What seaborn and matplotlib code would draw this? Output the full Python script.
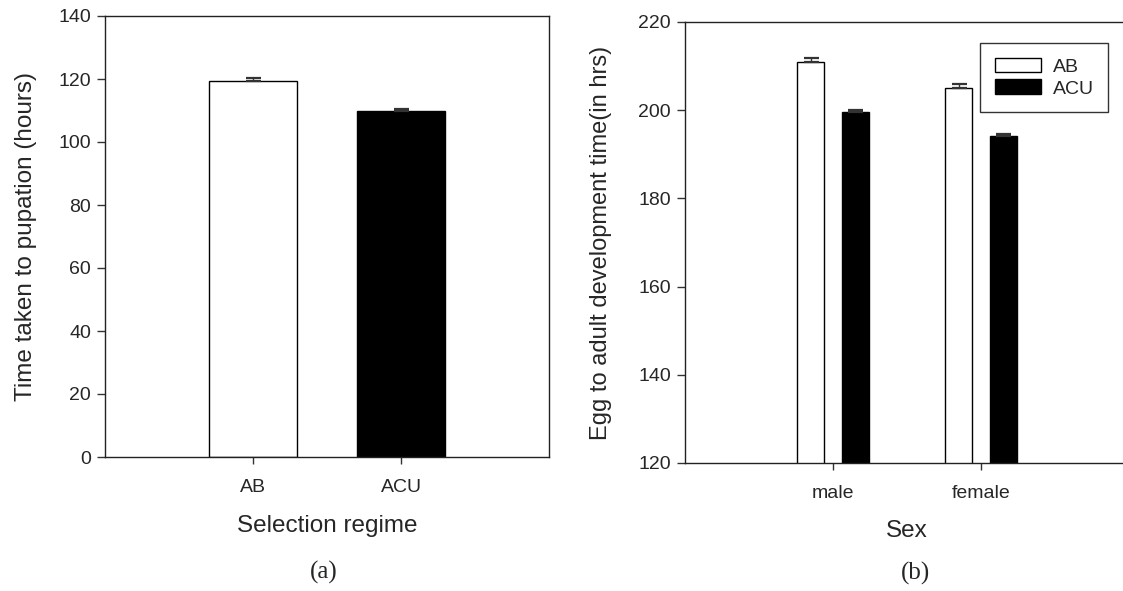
import matplotlib
matplotlib.use("Agg")
import matplotlib.pyplot as plt
import seaborn as sns
import pandas as pd
import numpy as np

# ---- data ----
regimes = ["AB", "ACU"]
pupation_mean = [119.4, 109.8]
pupation_err = [0.9, 0.6]

sexes = ["male", "female"]
dev_AB = [210.9, 205.0]
dev_ACU = [199.7, 194.2]
dev_AB_err = [0.9, 0.9]
dev_ACU_err = [0.3, 0.4]

sns.set_theme(style="white")
plt.rcParams['font.family'] = ['Liberation Sans', 'DejaVu Sans']

W, H = 1123, 591
fig = plt.figure(figsize=(W / 100, H / 100), dpi=100)

def px_axes(l, t, r, b):
    return fig.add_axes([l / W, 1 - b / H, (r - l) / W, (b - t) / H])

L1, T1, R1, B1 = 105, 16, 549, 457
L2, T2, R2, B2 = 685, 22, 1129, 463
ax1 = px_axes(L1, T1, R1, B1)
ax2 = px_axes(L2, T2, R2, B2)

palette = {"AB": "white", "ACU": "black"}

# ---- panel (a) ----
dfa = pd.DataFrame({"regime": regimes, "hours": pupation_mean})
sns.barplot(data=dfa, x="regime", y="hours", hue="regime", palette=palette,
            width=0.6, errorbar=None, edgecolor="black", linewidth=1.0,
            legend=False, ax=ax1)
for p, e in zip(ax1.patches, pupation_err):
    cx = p.get_x() + p.get_width() / 2
    h = p.get_height()
    ax1.errorbar(cx, h, yerr=[[0], [e]], fmt="none", ecolor="#333333",
                 elinewidth=1.0, capsize=5.4, capthick=1.6)
ax1.set_xlim(-1, 2)
ax1.set_ylim(0, 140)
ax1.set_yticks(np.arange(0, 141, 20))
ax1.set_xlabel("Selection regime", fontsize=17.5)
ax1.set_ylabel("Time taken to pupation (hours)", fontsize=17.5)
ax1.xaxis.set_label_coords(0.5, -(515 - B1) / (B1 - T1))
ax1.yaxis.set_label_coords(-(L1 - 37) / (R1 - L1), 0.5)

# ---- panel (b) ----
dfb = pd.DataFrame({
    "sex": sexes * 2,
    "regime": ["AB"] * 2 + ["ACU"] * 2,
    "time": dev_AB + dev_ACU,
})
sns.barplot(data=dfb, x="sex", y="time", hue="regime", palette=palette,
            width=0.6, gap=0.4, errorbar=None, edgecolor="black",
            linewidth=1.0, ax=ax2)
bars = [p for p in ax2.patches if p.get_width() > 0 and p.get_height() != 0][:4]
errs = dev_AB_err + dev_ACU_err
for p, e in zip(bars, errs):
    cx = p.get_x() + p.get_width() / 2
    top = p.get_y() + p.get_height()
    ax2.errorbar(cx, top, yerr=[[0], [e]], fmt="none", ecolor="#333333",
                 elinewidth=1.0, capsize=5.4, capthick=1.6)
ax2.set_xlim(-1, 2)
ax2.set_ylim(120, 220)
ax2.set_yticks(np.arange(120, 221, 20))
ax2.set_xlabel("Sex", fontsize=17.5)
ax2.set_ylabel("Egg to adult development time(in hrs)", fontsize=17)
ax2.xaxis.set_label_coords(0.5, -(520 - B2) / (B2 - T2))
ax2.yaxis.set_label_coords(-(L2 - 612) / (R2 - L2), 0.5)
leg = ax2.legend(loc="upper left", bbox_to_anchor=(980 / W, 1 - 43 / H),
                 bbox_transform=fig.transFigure, borderaxespad=0,
                 fontsize=14, frameon=True, fancybox=False,
                 edgecolor="black", handlelength=2.37, handleheight=0.77,
                 borderpad=0.75, labelspacing=0.2, handletextpad=0.62)
leg.get_frame().set_linewidth(1.0)
for h in leg.legend_handles:
    h.set_edgecolor("black")

for ax in (ax1, ax2):
    for s in ax.spines.values():
        s.set_visible(True)
        s.set_color("#222222")
        s.set_linewidth(1.0)
    ax.tick_params(axis="y", direction="out", length=6, width=1,
                   color="#333333", labelsize=14, pad=4, left=True)
    ax.tick_params(axis="x", direction="out", length=5, width=1,
                   color="#333333", labelsize=14, pad=11, bottom=True)

fig.text(324 / W, 1 - 572 / H, "(a)", ha="center", va="center", fontsize=18,
         family=["Liberation Serif", "DejaVu Serif"])
fig.text(916 / W, 1 - 573 / H, "(b)", ha="center", va="center", fontsize=18,
         family=["Liberation Serif", "DejaVu Serif"])

fig.savefig("out.png", dpi=100, facecolor="white")
